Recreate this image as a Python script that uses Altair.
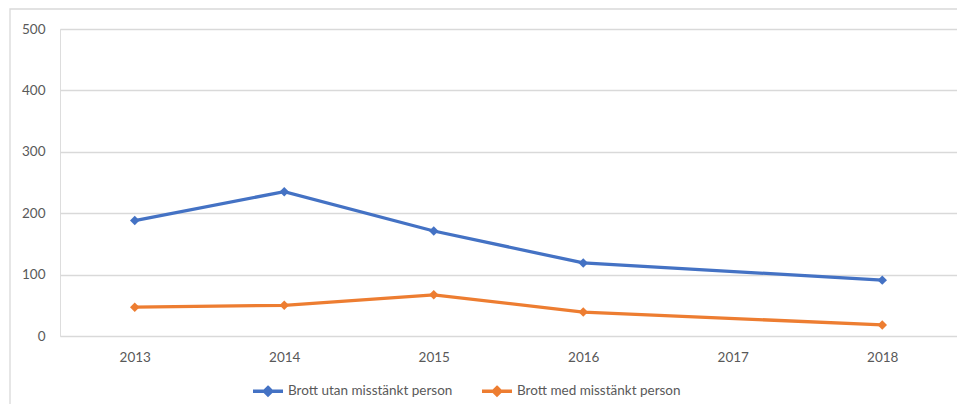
import altair as alt
import pandas as pd

years = ["2013", "2014", "2015", "2016", "2017", "2018"]
series_names = ["Brott utan misstänkt person", "Brott med misstänkt person"]
# 2017 has no value in either series (line joins 2016 directly to 2018)
utan = [188, 235, 171, 119, None, 91]
med = [47, 50, 67, 39, None, 18]
colors = ["#4472C4", "#ED7D31"]

rows = []
for name, vals in zip(series_names, [utan, med]):
    for y, v in zip(years, vals):
        if v is not None:
            rows.append({"year": y, "value": v, "series": name})
df = pd.DataFrame(rows)

FONT = "Lato"

x = alt.X("year:N", scale=alt.Scale(domain=years, paddingInner=0, paddingOuter=0.5),
          axis=alt.Axis(title=None, labelAngle=0, domain=False, ticks=False,
                        labelPadding=14, labelFontSize=13.5, labelColor="#595959", labelFont=FONT))
y = alt.Y("value:Q", scale=alt.Scale(domain=[0, 500], nice=False),
          axis=alt.Axis(title=None, values=[0, 100, 200, 300, 400, 500], domain=False, ticks=False,
                        labelPadding=15, labelFontSize=13.5, labelColor="#595959", labelFont=FONT,
                        gridColor="#D9D9D9", gridWidth=1.3))
color = alt.Color("series:N", scale=alt.Scale(domain=series_names, range=colors),
                  legend=alt.Legend(title=None, orient="none", direction="horizontal",
                                    legendX=191, legendY=345,
                                    symbolType="M-1,0L1,0M0,-0.24L0.24,0L0,0.24L-0.24,0Z",
                                    symbolSize=900, symbolStrokeWidth=3.5,
                                    labelFontSize=13.5, labelColor="#595959", labelFont=FONT,
                                    labelLimit=400, columnPadding=22, labelOffset=3))

lines = alt.Chart(df).mark_line(strokeWidth=3.3).encode(x=x, y=y, color=color)
points = alt.Chart(df).mark_point(shape="diamond", filled=True, size=90, opacity=1).encode(
    x=x, y=y, color=alt.Color("series:N", scale=alt.Scale(domain=series_names, range=colors), legend=None))

border = alt.Chart(alt.Data(values=[{}])).mark_rect(fill=None, stroke="#D9D9D9", strokeWidth=1.3).encode(
    x=alt.value(-50), x2=alt.value(930), y=alt.value(-20), y2=alt.value(420))

chart = alt.layer(border, lines, points).properties(
    width=897, height=307,
    autosize=alt.AutoSizeParams(type="none"),
    padding={"left": 52, "top": 21, "right": 0, "bottom": 68},
).configure_view(stroke=None).configure(background="white")

chart.save("out.html", embed_options={"renderer": "svg", "actions": False})
